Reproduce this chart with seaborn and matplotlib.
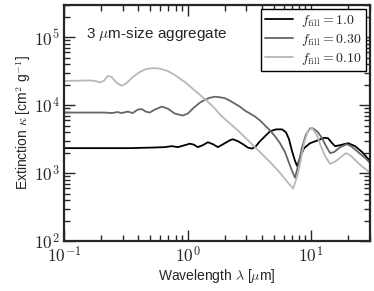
import numpy as np
import pandas as pd
import matplotlib
matplotlib.use("Agg")
import matplotlib.pyplot as plt
import matplotlib.ticker as mticker
import seaborn as sns

# values (wavelength in micron, kappa in cm^2/g)
wl_f100 = [0.1, 0.1944, 0.3404, 0.4946, 0.6544, 0.7457, 0.8341, 0.9508, 1.044, 1.125,
           1.212, 1.331, 1.461, 1.605, 1.761, 2.007, 2.203, 2.330, 2.559, 2.809,
           3.083, 3.323, 3.581, 3.859, 4.237, 4.651, 5.202, 5.819, 6.270, 6.631,
           7.013, 7.417, 7.700, 8.142, 8.774, 9.815, 11.40, 12.75, 13.74, 14.80,
           15.65, 17.19, 19.96, 22.74, 25.92, 30.0]
kap_f100 = [2335, 2335, 2335, 2374, 2415, 2497, 2415, 2582, 2715, 2626,
            2415, 2582, 2855, 2670, 2415, 2761, 3053, 3157, 2953, 2670,
            2374, 2296, 2497, 2953, 3492, 4128, 4415, 4415, 3993, 3157,
            2112, 1510, 1277, 1670, 2335, 2761, 3053, 3320, 3265, 2761,
            2497, 2582, 2761, 2497, 2042, 1510]

wl_f030 = [0.1, 0.2135, 0.2433, 0.2721, 0.2932, 0.3280, 0.3600, 0.3952, 0.4260, 0.4590,
           0.4946, 0.5430, 0.6188, 0.6920, 0.7888, 0.9158, 1.0055, 1.125, 1.258, 1.382,
           1.517, 1.665, 1.828, 2.007, 2.203, 2.419, 2.656, 2.915, 3.201, 3.515,
           3.859, 4.237, 4.651, 5.105, 5.606, 6.154, 6.631, 7.013, 7.417, 7.846,
           8.452, 9.108, 9.815, 10.38, 11.40, 12.28, 13.23, 14.26, 15.36, 17.19,
           19.50, 21.11, 24.05, 27.42, 30.0]
kap_f030 = [7805, 7805, 7675, 7940, 7675, 8070, 7675, 8630, 8780, 8070,
            7805, 8630, 9540, 8925, 7545, 7060, 7545, 9230, 10910, 12070,
            12900, 13350, 13130, 12690, 11670, 10550, 9540, 8345, 7545, 6825,
            5967, 5048, 4268, 3492, 2761, 2042, 1412, 1080, 854, 1277,
            2415, 3734, 4565, 4565, 3993, 3265, 2497, 1975, 2042, 2415,
            2670, 2497, 2042, 1670, 1412]

wl_f010 = [0.1, 0.1613, 0.1794, 0.1944, 0.2096, 0.2258, 0.2433, 0.2621, 0.2932, 0.3218,
           0.3600, 0.4104, 0.4590, 0.5231, 0.5961, 0.6920, 0.7888, 0.9508, 1.104, 1.258,
           1.461, 1.665, 1.862, 2.203, 2.656, 3.201, 3.859, 4.651, 5.606, 6.508,
           7.145, 7.700, 8.142, 8.774, 9.456, 10.19, 11.10, 11.83, 12.99, 14.26,
           15.95, 17.84, 19.22, 21.11, 24.05, 27.42, 30.0]
kap_f010 = [22810, 23200, 22810, 21700, 22810, 26970, 26090, 22060, 19290, 21330,
            26080, 30840, 34100, 35260, 34670, 31890, 27890, 22060, 17450, 14270,
            11280, 8925, 7060, 5400, 3993, 2855, 2042, 1460, 1010, 722,
            591, 883, 1366, 2761, 4268, 4565, 3734, 2670, 1786, 1366,
            1510, 1786, 1975, 1786, 1412, 1155, 1010]

labels = [r'$f_{\rm fill}=1.0$', r'$f_{\rm fill}=0.30$', r'$f_{\rm fill}=0.10$']
colors = ['black', '0.4', '0.72']

sns.set_style("ticks")
plt.rcParams['font.family'] = ['Liberation Sans', 'DejaVu Sans']
plt.rcParams['mathtext.fontset'] = 'cm'

fig = plt.figure(figsize=(3.74, 2.91), dpi=100)
ax = fig.add_axes([64 / 374, 50 / 291, 306 / 374, 236 / 291])

series = [(wl_f100, kap_f100), (wl_f030, kap_f030), (wl_f010, kap_f010)]
for (wl, kap), lab, col in zip(series, labels, colors):
    df = pd.DataFrame({'wl': wl, 'kappa': kap})
    sns.lineplot(data=df, x='wl', y='kappa', ax=ax, color=col, lw=1.3, label=lab)

ax.set_xscale('log')
ax.set_yscale('log')
ax.set_xlim(0.1, 30)
ax.set_ylim(1e2, 3e5)

# serif (computer modern) tick labels like the original
cm_fmt = mticker.FuncFormatter(lambda v, p: r'$10^{%d}$' % int(round(np.log10(v))))
ax.xaxis.set_major_formatter(cm_fmt)
ax.yaxis.set_major_formatter(cm_fmt)

ax.tick_params(which='both', direction='in', top=True, right=True, width=1.0, labelsize=12.5)
ax.tick_params(which='major', length=8, pad=3)
ax.tick_params(which='minor', length=4)
for sp in ax.spines.values():
    sp.set_linewidth(1.6)

ax.set_xlabel(r'Wavelength $\lambda$ [$\mu$m]', fontsize=10, labelpad=1)
ax.set_ylabel(r'Extinction $\kappa$ [cm$^2$ g$^{-1}$]', fontsize=10, labelpad=1)

ax.text(0.072, 0.86, r'3 $\mu$m-size aggregate', transform=ax.transAxes, fontsize=11)

leg = ax.legend(loc='upper right', fontsize=10, frameon=True, fancybox=False,
                borderpad=0.3, labelspacing=0.2, handlelength=2.0, handletextpad=0.6,
                borderaxespad=0.3)
leg.get_frame().set_edgecolor('black')
leg.get_frame().set_linewidth(1.0)
leg.get_frame().set_alpha(1)

fig.savefig('out.png', dpi=100)
